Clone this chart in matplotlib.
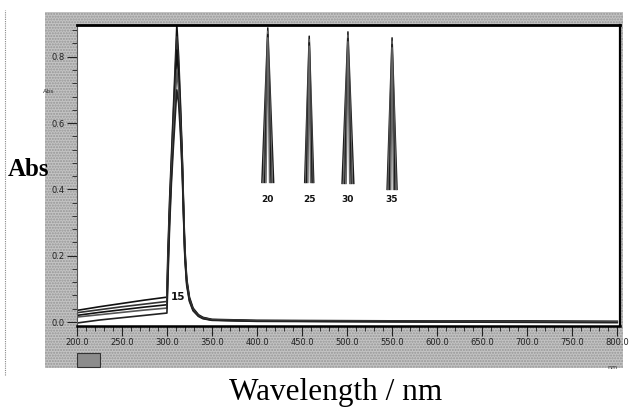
"""
UV-Vis absorbance spectra (scanned instrument screen): main peak near 311 nm
labelled 15, with four cropped peak tops labelled 20/25/30/35 placed inside.
"""
import matplotlib
matplotlib.use("Agg")
import matplotlib.pyplot as plt
from matplotlib.patches import Rectangle
from matplotlib.ticker import MultipleLocator, FormatStrFormatter

# wavelength grid (nm) and absorbance of the overlaid spectra
WAVELENGTH = [200, 225, 250, 275, 300, 301, 303, 305, 307, 309, 311, 313, 315, 317,
              318, 319, 320, 322, 325, 329, 335, 340, 350, 400, 500, 600, 700, 800]
ABS_1 = [0.035, 0.046, 0.056, 0.066, 0.075, 0.20, 0.37, 0.50, 0.63, 0.76, 0.895, 0.80, 0.66, 0.50,
         0.40, 0.30, 0.22, 0.13, 0.075, 0.042, 0.022, 0.014, 0.008, 0.005, 0.004, 0.003, 0.003, 0.002]
ABS_2 = [0.028, 0.037, 0.046, 0.054, 0.062, 0.18, 0.35, 0.48, 0.61, 0.73, 0.86, 0.77, 0.64, 0.49,
         0.39, 0.29, 0.21, 0.125, 0.070, 0.040, 0.020, 0.013, 0.007, 0.004, 0.003, 0.002, 0.002, 0.001]
ABS_3 = [0.020, 0.029, 0.037, 0.045, 0.052, 0.16, 0.33, 0.46, 0.58, 0.70, 0.82, 0.74, 0.62, 0.48,
         0.38, 0.28, 0.20, 0.12, 0.068, 0.038, 0.019, 0.012, 0.006, 0.003, 0.002, 0.001, 0.001, 0.000]
ABS_4 = [0.015, 0.022, 0.029, 0.036, 0.042, 0.14, 0.31, 0.44, 0.55, 0.66, 0.76, 0.70, 0.59, 0.46,
         0.37, 0.275, 0.195, 0.115, 0.065, 0.036, 0.018, 0.011, 0.006, 0.003, 0.002, 0.001, 0.000, 0.000]
ABS_5 = [-0.003, 0.006, 0.013, 0.020, 0.027, 0.12, 0.29, 0.42, 0.52, 0.61, 0.70, 0.66, 0.57, 0.45,
         0.36, 0.27, 0.19, 0.11, 0.062, 0.034, 0.017, 0.010, 0.005, 0.002, 0.001, 0.000, -0.001, -0.002]
SPECTRA = [ABS_1, ABS_2, ABS_3, ABS_4, ABS_5]
SPECTRA_COLORS = ["#111111", "#333333", "#111111", "#555555", "#222222"]

MAIN_LABEL = "15"
MAIN_LABEL_POS = (312, 0.075)

# peak tops shown as insets: label, centre (nm), top / base absorbance, half widths (nm)
SPIKE_LABELS = ["20", "25", "30", "35"]
SPIKE_CENTER = [412, 458, 501, 550]
SPIKE_TOP = [0.887, 0.862, 0.875, 0.857]
SPIKE_BASE = [0.421, 0.421, 0.418, 0.400]
SPIKE_HALF = [[6.5, 5.0, 3.5, 2.0], [5.0, 4.0, 3.0, 1.5], [6.5, 5.0, 3.5, 2.0], [5.5, 4.5, 3.0, 1.5]]
SPIKE_LABEL_Y = 0.37

X_TICKS = [200, 250, 300, 350, 400, 450, 500, 550, 600, 650, 700, 750, 800]
Y_TICKS = [0.0, 0.2, 0.4, 0.6, 0.8]

fig = plt.figure(figsize=(6.3, 4.08), dpi=100)

# grey instrument panel behind the plot
panel = Rectangle((0.0714, 0.098), 0.918, 0.873, transform=fig.transFigure,
                  facecolor="#c4c4c4", edgecolor="#969696", hatch="......", lw=0, zorder=-5)
fig.patches.append(panel)
# scan edge on the far left
fig.add_artist(plt.Line2D([0.008, 0.008], [0.08, 0.975], transform=fig.transFigure,
                          color="#888888", lw=0.8, ls=(0, (1, 1))))
# small grey key box under the axis
fig.patches.append(Rectangle((0.1215, 0.101), 0.038, 0.034, transform=fig.transFigure,
                             facecolor="#8c8c8c", edgecolor="#333333", lw=0.8, zorder=-4))

ax = fig.add_axes([0.122, 0.201, 0.862, 0.738])
ax.set_zorder(3)
ax.set_facecolor("white")

for vals, col in zip(SPECTRA, SPECTRA_COLORS):
    ax.plot(WAVELENGTH, vals, color=col, lw=1.2)

for lab, c, top, base, halves in zip(SPIKE_LABELS, SPIKE_CENTER, SPIKE_TOP, SPIKE_BASE, SPIKE_HALF):
    for k, h in enumerate(halves):
        ax.plot([c - h, c, c + h], [base, top - 0.01 * k, base],
                color="#1a1a1a" if k % 2 == 0 else "#666666", lw=1.1)
    ax.text(c, SPIKE_LABEL_Y, lab, ha="center", va="center", fontsize=6.5,
            fontweight="bold", color="#111111")

ax.text(*MAIN_LABEL_POS, MAIN_LABEL, ha="center", va="center", fontsize=7.5,
        fontweight="bold", color="#111111")

ax.set_xlim(200, 803)
ax.set_ylim(-0.012, 0.896)
ax.set_xticks(X_TICKS)
ax.set_yticks(Y_TICKS)
ax.xaxis.set_minor_locator(MultipleLocator(10))
ax.yaxis.set_minor_locator(MultipleLocator(0.04))
ax.xaxis.set_major_formatter(FormatStrFormatter("%.1f"))
ax.yaxis.set_major_formatter(FormatStrFormatter("%.1f"))
ax.tick_params(axis="both", which="major", direction="out", length=7, width=0.8,
               labelsize=6, colors="#222222", pad=2)
ax.tick_params(axis="both", which="minor", direction="out", length=3.5, width=0.7,
               colors="#333333")

ax.spines["top"].set_linewidth(2.0)
ax.spines["right"].set_linewidth(1.6)
ax.spines["bottom"].set_linewidth(1.8)
ax.spines["left"].set_linewidth(0.8)
ax.spines["left"].set_color("#555555")

# small labels printed by the instrument
fig.text(0.078, 0.775, "Abs", fontsize=4.5, color="#333333", ha="center", va="center")
fig.text(0.972, 0.100, "nm", fontsize=4.5, color="#333333", ha="center", va="center")

# axis titles added on the scan
fig.text(0.045, 0.585, "Abs", fontsize=18, fontweight="bold", family="Liberation Serif",
         ha="center", va="center")
fig.text(0.533, 0.038, "Wavelength / nm", fontsize=22.5, family="Liberation Serif",
         ha="center", va="center")

fig.savefig("out.png", dpi=100)
